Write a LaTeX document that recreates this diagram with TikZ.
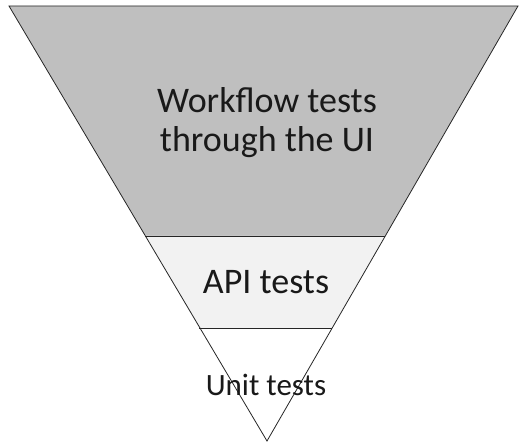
\documentclass[tikz,border=0pt]{standalone}
\usepackage{fontspec}
\setmainfont{Carlito}
\begin{document}
\begin{tikzpicture}[x=1pt,y=-1pt,
  band/.style={draw=black!85,line width=0.8pt,line join=miter},
  lbl/.style={anchor=base,inner sep=0pt,text=black!90}]
\useasboundingbox (0,0) rectangle (519,446);
\coordinate (tl) at (9,6);
\coordinate (tr) at (518,6);
\coordinate (ap) at (267,441);
\coordinate (l1) at (145.4,236);
\coordinate (r1) at (385.2,236);
\coordinate (l2) at (199.2,328);
\coordinate (r2) at (332.1,328);
\fill[fill={rgb,255:red,191;green,191;blue,191}] (tl) -- (tr) -- (r1) -- (l1) -- cycle;
\fill[fill={rgb,255:red,242;green,242;blue,242}] (l1) -- (r1) -- (r2) -- (l2) -- cycle;
\fill[white] (l2) -- (r2) -- (ap) -- cycle;
\draw[band] (tl) -- (tr) -- (ap) -- cycle;
\draw[band] (l1) -- (r1);
\draw[band] (l2) -- (r2);
\node[lbl,font=\fontsize{36}{40}\selectfont] (wf1) at (267,113) {Workflow tests};
\node[lbl,font=\fontsize{36}{40}\selectfont] (wf2) at (267,152) {through the UI};
\node[lbl,font=\fontsize{36}{40}\selectfont] (api) at (266,293) {API tests};
\node[lbl,font=\fontsize{31}{35}\selectfont] (unit) at (266,395) {Unit tests};
\end{tikzpicture}
\end{document}
